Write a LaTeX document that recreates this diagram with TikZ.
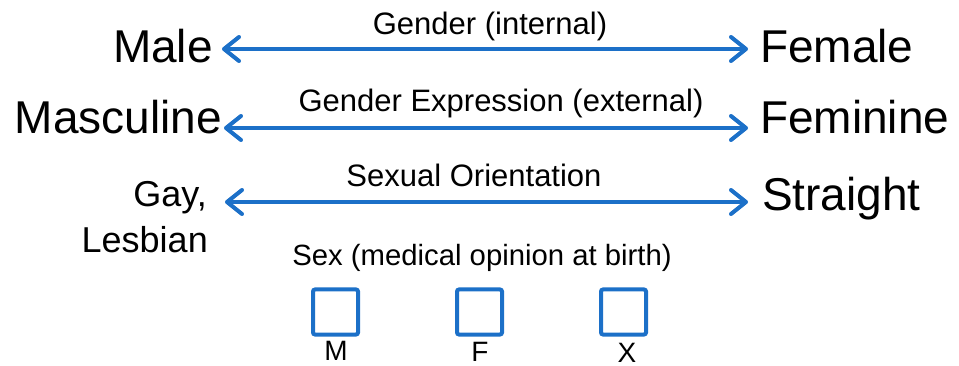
\documentclass[tikz,border=0pt]{standalone}
\usepackage{fontspec}
\setmainfont{Liberation Sans}
\usetikzlibrary{arrows.meta}
\definecolor{arrblue}{RGB}{28,112,200}
\tikzset{
  big/.style={inner sep=0pt, font=\fontsize{46}{50}\selectfont},
  mid/.style={inner sep=0pt, font=\fontsize{36}{40}\selectfont},
  lbl/.style={inner sep=0pt, font=\fontsize{31}{36}\selectfont},
  small/.style={inner sep=0pt, font=\fontsize{28}{32}\selectfont},
  arr/.style={draw=arrblue, line width=4pt, line cap=round,
    {Straight Barb[length=15pt,width=24pt,line cap=round,line join=round]}-{Straight Barb[length=15pt,width=24pt,line cap=round,line join=round]}},
  tick/.style={draw=arrblue, line width=4pt, rounded corners=2pt, minimum size=45pt, inner sep=0pt}
}
\begin{document}
\begin{tikzpicture}[x=1pt,y=-1pt]
\useasboundingbox (0,0) rectangle (959,366);
% row 1
\node[big, anchor=base east] (male) at (213,63) {Male};
\node[big, anchor=base west] (female) at (760,63) {Female};
\node[lbl, anchor=base] (l1) at (490,35) {Gender (internal)};
\draw[arr] ([shift={(9,-14)}]male.base east) -- ([shift={(-12,-14)}]female.base west);
% row 2
\node[big, anchor=base east] (masc) at (222,134) {Masculine};
\node[big, anchor=base west] (fem) at (760,134) {Feminine};
\node[lbl, anchor=base] (l2) at (501,112) {Gender Expression (external)};
\draw[arr] ([shift={(2,-6)}]masc.base east) -- ([shift={(-12,-6)}]fem.base west);
% row 3
\node[mid, anchor=base east] (gay) at (207,207) {Gay,};
\node[mid, anchor=base east] (lesb) at (208,253) {Lesbian};
\node[big, anchor=base west] (straight) at (762,211) {Straight};
\node[lbl, anchor=base] (l3) at (474,187) {Sexual Orientation};
\draw[arr] ([shift={(18,-5)}]gay.base east) -- ([shift={(-14,-9)}]straight.base west);
% sex
\node[lbl, anchor=base, font=\fontsize{29.3}{34}\selectfont] (l4) at (482,266) {Sex (medical opinion at birth)};
\node[tick] (bm) at (335.5,312) {};
\node[tick] (bf) at (479.5,312) {};
\node[tick] (bx) at (623.5,312) {};
\node[small, anchor=base] (tm) at (336,360) {M};
\node[small, anchor=base] (tf) at (480,361) {F};
\node[small, anchor=base] (tx) at (627,362) {X};
\end{tikzpicture}
\end{document}
